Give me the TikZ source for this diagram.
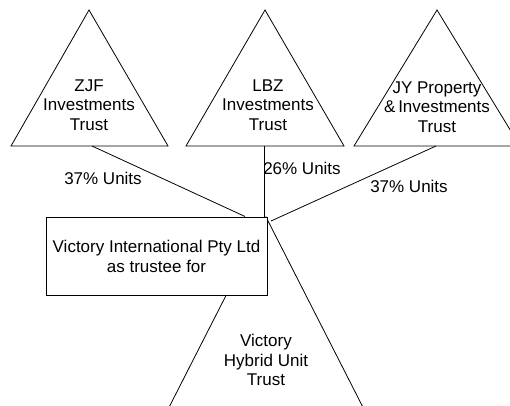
\documentclass[tikz,border=0pt]{standalone}
\usepackage{fontspec}
\setmainfont{Liberation Sans}
\begin{document}
\begin{tikzpicture}[x=1pt,y=-1pt,line width=0.8pt,
  lbl/.style={font=\fontsize{17}{19.5}\selectfont,align=center,inner sep=0pt},
  boxnode/.style={draw,line width=1pt,fill=white,minimum width=221pt,minimum height=78pt,inner sep=0pt,align=center,font=\fontsize{17}{20}\selectfont}]
\useasboundingbox (0,0) rectangle (510,405);
\clip (0,0) rectangle (510,405);
% Victory Hybrid Unit Trust triangle (apex behind box corner)
\coordinate (vapex) at (266,217);
\coordinate (vl) at (160,425);
\coordinate (vr) at (372,425);
\draw (vl) -- (vapex) -- (vr);
\node[lbl] (vtext) at (266,360) {Victory\\Hybrid Unit\\Trust};
% top triangles
\coordinate (t1a) at (89,10); \coordinate (t1l) at (11,146); \coordinate (t1r) at (168,146);
\coordinate (t2a) at (265,10); \coordinate (t2l) at (186,146); \coordinate (t2r) at (344,146);
\coordinate (t3a) at (437,10); \coordinate (t3l) at (354,146); \coordinate (t3r) at (520,146);
\draw (t1a) -- (t1l) -- (t1r) -- cycle;
\draw (t2a) -- (t2l) -- (t2r) -- cycle;
\draw (t3a) -- (t3l) -- (t3r) -- cycle;
\node[lbl] (zjf) at (89,105) {ZJF\\Investments\\Trust};
\node[lbl] (lbz) at (268,105) {LBZ\\Investments\\Trust};
\node[lbl] (jy) at (437,107) {JY Property\\\&\,Investments\\Trust};
% box
\node[boxnode] (box) at (156.5,256) {Victory International Pty Ltd\\as trustee for};
% connectors
\coordinate (c1s) at (92,146); \coordinate (c1e) at (245,216.5);
\coordinate (c2s) at (264,146); \coordinate (c2e) at (264,216.5);
\coordinate (c3s) at (436,146); \coordinate (c3e) at (271,221);
\draw (c1s) -- (c1e);
\draw (c2s) -- (c2e);
\draw (c3s) -- (c3e);
\node[lbl] (l1) at (103,178) {37\% Units};
\node[lbl] (l2) at (302,168) {26\% Units};
\node[lbl] (l3) at (409,186) {37\% Units};
\end{tikzpicture}
\end{document}
